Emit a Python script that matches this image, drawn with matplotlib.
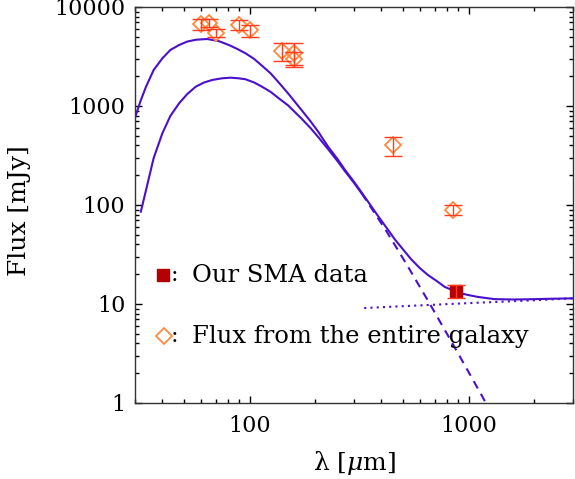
import matplotlib
matplotlib.use('Agg')
import matplotlib.pyplot as plt

plt.rcParams['font.family'] = 'DejaVu Serif'
plt.rcParams['mathtext.fontset'] = 'dejavuserif'

# flux of the entire galaxy (far-IR / submm)
lam_gal = [60, 65, 70, 90, 100, 140, 160, 160, 450, 850]
flux_gal = [6700, 6950, 5500, 6650, 5800, 3600, 3450, 3000, 400, 89]
err_gal = [800, 700, 550, 750, 800, 750, 850, 500, 90, 10]

# SMA point
lam_sma = [880]
flux_sma = [13.5]
err_sma = [2.0]

# model curves
lam_tot = [30, 31.8, 33.7, 36.5, 40, 43.5, 47.7, 52, 57, 64, 72, 80.5, 88, 96, 105,
           114, 125, 136, 150, 173, 190, 206, 229, 252, 273, 299, 325, 354, 387,
           424, 461, 506, 548, 600, 653, 715, 778, 850, 925, 1000, 1100, 1310,
           1600, 1860, 2400, 3000]
flux_tot = [760, 1125, 1570, 2310, 3030, 3680, 4130, 4480, 4670, 4750, 4540, 4130,
            3765, 3400, 2985, 2553, 2130, 1727, 1341, 907, 700, 549, 385, 292, 226,
            173, 134, 102, 76.9, 58.2, 44.9, 34.9, 28.2, 23.0, 19.6, 17.1, 14.9, 13.7,
            12.8, 12.3, 11.8, 11.2, 11.1, 11.15, 11.3, 11.4]

lam_cold = [31.9, 33.7, 36.5, 40, 43.5, 47.7, 52, 56.8, 62, 67.6, 75, 82, 89, 96,
            105, 114, 125, 136, 150, 173, 190, 206, 229, 252, 273, 299, 325]
flux_cold = [85.6, 142, 298, 530, 793, 1065, 1322, 1567, 1727, 1832, 1905, 1932,
             1905, 1860, 1727, 1567, 1385, 1196, 1014, 744, 598, 485, 364, 278, 219,
             169, 131]

lam_dash = [325, 354, 387, 424, 461, 506, 548, 653, 752, 864, 1000, 1162, 1224]
flux_dash = [131, 98.6, 72.9, 53.4, 39.4, 28.1, 20.9, 10.8, 6.27, 3.66, 2.06, 1.14, 0.92]

lam_dot = [334, 500, 1000, 2000, 3000]
flux_dot = [9.1, 9.5, 10.2, 10.9, 11.4]

line_col = '#4A10CC'

fig = plt.figure(figsize=(5.75, 4.79), dpi=100)
ax = fig.add_axes([0.2348, 0.1587, 0.7617, 0.8267])

ax.plot(lam_tot, flux_tot, color=line_col, lw=1.5)
ax.plot(lam_cold, flux_cold, color=line_col, lw=1.5)
ax.plot(lam_dash, flux_dash, color=line_col, lw=1.5, ls=(0, (4, 3)))
ax.plot(lam_dot, flux_dot, color=line_col, lw=1.5, ls=(0, (1, 2)))

ax.plot(lam_gal, flux_gal, ls='none', marker='D', ms=8.5, mfc='none',
        mec='#FF8A3D', mew=1.3, zorder=4)
ax.errorbar(lam_gal, flux_gal, yerr=err_gal, fmt='none', ecolor='#FF3C1E',
            elinewidth=1.0, capsize=6.5, capthick=1.0, zorder=5)

ax.plot(lam_sma, flux_sma, ls='none', marker='s', ms=8, color='#B40000', zorder=4)
ax.errorbar(lam_sma, flux_sma, yerr=err_sma, fmt='none', ecolor='#FF3C1E',
            elinewidth=1.0, capsize=6.5, capthick=1.0, zorder=5)

ax.set_xscale('log')
ax.set_yscale('log')
ax.set_xlim(30, 3000)
ax.set_ylim(1, 10000)

ax.set_xticks([100, 1000])
ax.set_xticklabels(['100', '1000'])
ax.set_yticks([1, 10, 100, 1000, 10000])
ax.set_yticklabels(['1', '10', '100', '1000', '10000'])
ax.tick_params(which='both', direction='in', top=True, right=True, labelsize=16)
ax.tick_params(which='major', length=5, width=1)
ax.tick_params(which='minor', length=3, width=1)
ax.tick_params(axis='y', pad=7)
ax.tick_params(axis='x', pad=9)
for s in ax.spines.values():
    s.set_linewidth(1.0)
    s.set_color('#333333')

ax.set_xlabel('λ [$\\mu$m]', fontsize=18)
ax.set_ylabel('Flux [mJy]', fontsize=18)
ax.xaxis.set_label_coords(0.502, -0.116)
ax.yaxis.set_label_coords(-0.238, 0.487)

# hand-made legend
ax.plot([0.064], [0.322], transform=ax.transAxes, marker='s', ms=8.5,
        color='#B40000', ls='none', clip_on=False)
ax.text(0.090, 0.322, ':', transform=ax.transAxes, fontsize=16,
        va='center', ha='center')
ax.text(0.130, 0.322, 'Our SMA data', transform=ax.transAxes,
        fontsize=17.5, va='center', ha='left')
ax.plot([0.066], [0.169], transform=ax.transAxes, marker='D', ms=8,
        mfc='none', mec='#FF8A3D', mew=1.3, ls='none', clip_on=False)
ax.text(0.090, 0.169, ':', transform=ax.transAxes, fontsize=16,
        va='center', ha='center')
ax.text(0.130, 0.169, 'Flux from the entire galaxy', transform=ax.transAxes,
        fontsize=17.5, va='center', ha='left')

fig.savefig('out.png', dpi=100)
